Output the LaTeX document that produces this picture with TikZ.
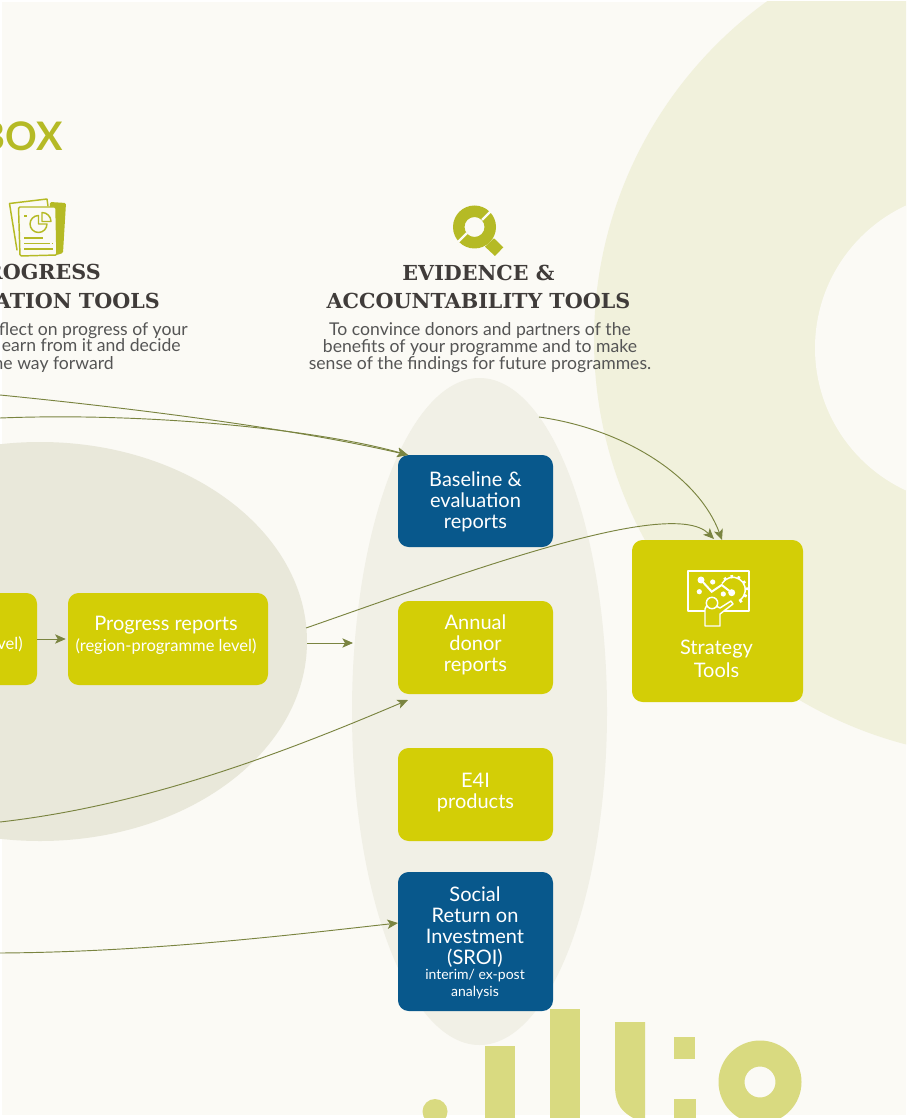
\documentclass[tikz,border=0pt]{standalone}
\usepackage{fontspec}
\setmainfont{Lato}
\newfontfamily\slabf{DejaVu Serif}
\usetikzlibrary{arrows.meta,calc}
\definecolor{pagebg}{HTML}{FBFAF5}
\definecolor{ringc}{HTML}{F1F1DC}
\definecolor{ellA}{HTML}{E9E8DA}
\definecolor{ellB}{HTML}{F1F0E6}
\definecolor{bluebox}{HTML}{08588C}
\definecolor{yellowbox}{HTML}{D3CE06}
\definecolor{arrowc}{HTML}{7A8440}
\definecolor{logoc}{HTML}{D9DA80}
\definecolor{olive}{HTML}{B5BA25}
\definecolor{headc}{HTML}{403C3A}
\definecolor{bodyc}{HTML}{555555}
\newcommand{\smalltxt}[1]{{\fontsize{10.5}{11.8}\selectfont #1}}
\newcommand{\midtxt}[1]{{\fontsize{12.4}{13}\selectfont #1}}
\tikzset{
  tool/.style={rounded corners=8pt,inner sep=0pt,text=white,align=center,font=\fontsize{15}{15.8}\selectfont},
  ybox/.style={tool,fill=yellowbox},
  bbox/.style={tool,fill=bluebox},
  conn/.style={draw=arrowc,line width=0.7pt,-{Stealth[length=8pt,width=7pt,inset=2pt]}},
  head/.style={text=headc,align=center,font=\slabf\bfseries\fontsize{15.5}{21.5}\selectfont,inner sep=0pt},
  body/.style={text=bodyc,align=center,font=\fontsize{13.2}{13}\selectfont,inner sep=0pt},
  iconl/.style={draw=olive,line width=1.1pt,line join=round},
  whl/.style={draw=white,line width=1.1pt,line join=round}
}
\begin{document}
\begin{tikzpicture}[x=0.75pt,y=-0.75pt]
\useasboundingbox (0,0) rectangle (906,1119);
\begin{scope}
\clip (0,0) rectangle (906,1119);
\fill[white] (0,0) rectangle (906,1119);
\fill[pagebg] (2,2) rectangle (906,1115);
% ring
\begin{scope}
\clip (2,2) rectangle (906,1115);
\fill[ringc] (1012,340) circle[radius=418];
\fill[pagebg] (972,348) circle[radius=157];
\end{scope}
% ellipses
\fill[ellA] (40,641.5) ellipse[x radius=267,y radius=199.5];
\fill[ellB] (479.5,711.5) ellipse[x radius=127.5,y radius=333.5];
% logo
\begin{scope}
\clip (0,0) rectangle (906,1117);
\fill[logoc] (435,1111.5) circle[radius=12.5];
\fill[logoc] (485,1046) rectangle (515,1119);
\fill[logoc] (550,1009) rectangle (580,1119);
\fill[logoc] (615,1022) -- (645,1022) -- (645,1119) -- (635,1119) .. controls (622,1112) and (615,1105) .. (615,1085) -- cycle;
\fill[logoc] (674,1037) rectangle (695,1059);
\fill[logoc] (674,1099) rectangle (696,1119);
\fill[logoc,even odd rule] (760,1082) circle[radius=41.5] (760,1082) circle[radius=15.5];
\end{scope}
% title and headings
\node[anchor=base east,text=olive,inner sep=0pt,font=\bfseries\fontsize{29.5}{30}\selectfont] (title) at (63,151) {BOX};
\node[head,anchor=base east] (h1) at (101,280) {ROGRESS};
\node[head,anchor=base east] (h2) at (160,309) {ATION TOOLS};
\node[body,anchor=base east] (b1) at (188,335) {flect on progress of your};
\node[body,anchor=base east] (b2) at (181,352) {earn from it and decide};
\node[body,anchor=base east] (b3) at (114,369) {he way forward};
\node[head] (h3) at (478.5,287) {EVIDENCE \&\\ACCOUNTABILITY TOOLS};
\node[body] (b4) at (480,347.5) {To convince donors and partners of the\\benefits of your programme and to make\\sense of the findings for future programmes.};
% document icon
\fill[olive,rounded corners=1pt] (50,202) -- (66,203) -- (63,253) -- (57,255) -- (48,255) -- cycle;
\draw[iconl,line cap=round] (17,250) -- (9.5,203.5) -- (47,199) -- (48,206);
\draw[iconl,fill=pagebg,rounded corners=1pt] (18.5,207) -- (56,207) -- (57,255) -- (20,256) -- cycle;
\draw[iconl] (38.5,224) -- (38.5,215.5) arc[start angle=-90,end angle=-360,radius=8.5] -- cycle;
\draw[iconl] (42,212.5) arc[start angle=-90,end angle=0,radius=9] -- (42,221.5) -- cycle;
\draw[iconl] (24,216) -- (27,216);
\draw[iconl] (24,238) -- (43,238);
\draw[iconl] (24,243.5) -- (50,243.5) (51.5,243.5) -- (52.5,243.5);
\draw[iconl] (24,249) -- (53,249);
% magnifier icon
\fill[olive] (485,246.7) -- (494,238.3) -- (503.3,247.3) -- (495,256) -- cycle;
\fill[olive,even odd rule] (474.5,227) circle[radius=21.5] (474.5,227) circle[radius=10];
\draw[pagebg,line width=1.6pt] (457,243) -- (467,233);
\draw[pagebg,line width=1.6pt] (482,220) -- (492,210);
% boxes
\node[bbox,minimum width=155*0.75pt,minimum height=92*0.75pt] (base) at (475.5,501) {};
\node[tool] (baselab) at (475.5,502) {Baseline \&\\evaluation\\reports};
\node[ybox,minimum width=155*0.75pt,minimum height=93*0.75pt] (annual) at (475.5,647.5) {};
\node[tool] (annuallab) at (475.5,644.5) {Annual\\donor\\reports};
\node[ybox,minimum width=155*0.75pt,minimum height=93*0.75pt] (e4i) at (475.5,794.5) {};
\node[tool] (e4ilab) at (475.5,792.5) {E4I\\products};
\node[bbox,minimum width=155*0.75pt,minimum height=139*0.75pt] (sroi) at (475.5,941.5) {};
\node[tool] (sroilab) at (475,942.5) {Social\\Return on\\Investment\\(SROI)\\[-4.5pt]\smalltxt{interim/ ex-post}\\[-3.5pt]\smalltxt{analysis}};
\node[ybox,minimum width=171*0.75pt,minimum height=162*0.75pt] (strategy) at (717.5,621) {};
\node[tool,anchor=center] (stratlab) at (716.5,658.5) {Strategy\\[1.5pt]Tools};
\node[ybox,minimum width=200*0.75pt,minimum height=92*0.75pt] (prog) at (168,639) {};
\node[tool] (proglab) at (166,635) {Progress reports\\[0pt]\midtxt{(region-programme level)}};
\node[ybox,minimum width=77*0.75pt,minimum height=92*0.75pt] (left) at (-1.5,639) {};
\node[anchor=base east,text=white,inner sep=0pt,font=\fontsize{12.4}{13}\selectfont] (leftlab) at (23,649) {vel)};
% strategy icon
\draw[whl] (688,571) rectangle (749,611);
\coordinate (gc) at (733,590);
\draw[whl] (722,583.5) arc[start angle=-150,end angle=60,radius=12.5];
\foreach \a in {-125,-95,-65,-35,-5,25,55} \draw[white,line width=2pt] ($(gc)+(\a:12)$) -- ($(gc)+(\a:15)$);
\fill[yellowbox] (725,600) circle[radius=9];
\draw[whl,fill=yellowbox] (705,626) -- (705,609) .. controls (706,604) and (710,605) .. (716,606) -- (720,608) -- (731,601) -- (733,604) -- (720,614) -- (720,626) -- cycle;
\draw[whl,fill=yellowbox] (712,603) circle[radius=5.7];
\draw[white,line width=1.5pt] (701,580) -- (711.7,591.7) -- (721.7,585) -- (731.7,592.7);
\fill[white] (701,580) circle[radius=3.5];
\fill[white] (731.7,592.7) circle[radius=3.5];
\fill[white] (712.7,582) circle[radius=2.6];
\fill[white] (699.3,591.7) circle[radius=2.6];
\fill[white] (723.3,594) circle[radius=2.6];
% connectors
\coordinate (c1) at (0,395);
\coordinate (c2) at (0,418);
\coordinate (c3) at (0,822);
\coordinate (c4) at (0,953);
\coordinate (ellB-top) at (539,417);
\coordinate (ellA-a) at (306,628);
\coordinate (ellA-b) at (307,643);
\coordinate (ellB-l) at (353,643);
\coordinate (t1) at (408,455);
\coordinate (t2) at (722,540);
\coordinate (t3) at (714,539);
\coordinate (t4) at (408,700);
\coordinate (t5) at (398,923);
\path[conn] (c1) .. controls (150,410) and (300,430) .. (t1);
\path[conn] (c2) .. controls (150,412) and (320,430) .. (t1);
\path[conn] (ellB-top) .. controls (630,430) and (700,480) .. (t2);
\path[conn] (ellA-a) .. controls (450,578) and (670,495) .. (t3);
\path[conn] (ellA-b) -- (ellB-l);
\path[conn] (c3) .. controls (150,805) and (290,750) .. (t4);
\path[conn] (c4) .. controls (150,952) and (290,935) .. (t5);
\path[conn,shorten >=1.5pt] (left.east) -- (prog.west);
\end{scope}
\end{tikzpicture}
\end{document}
